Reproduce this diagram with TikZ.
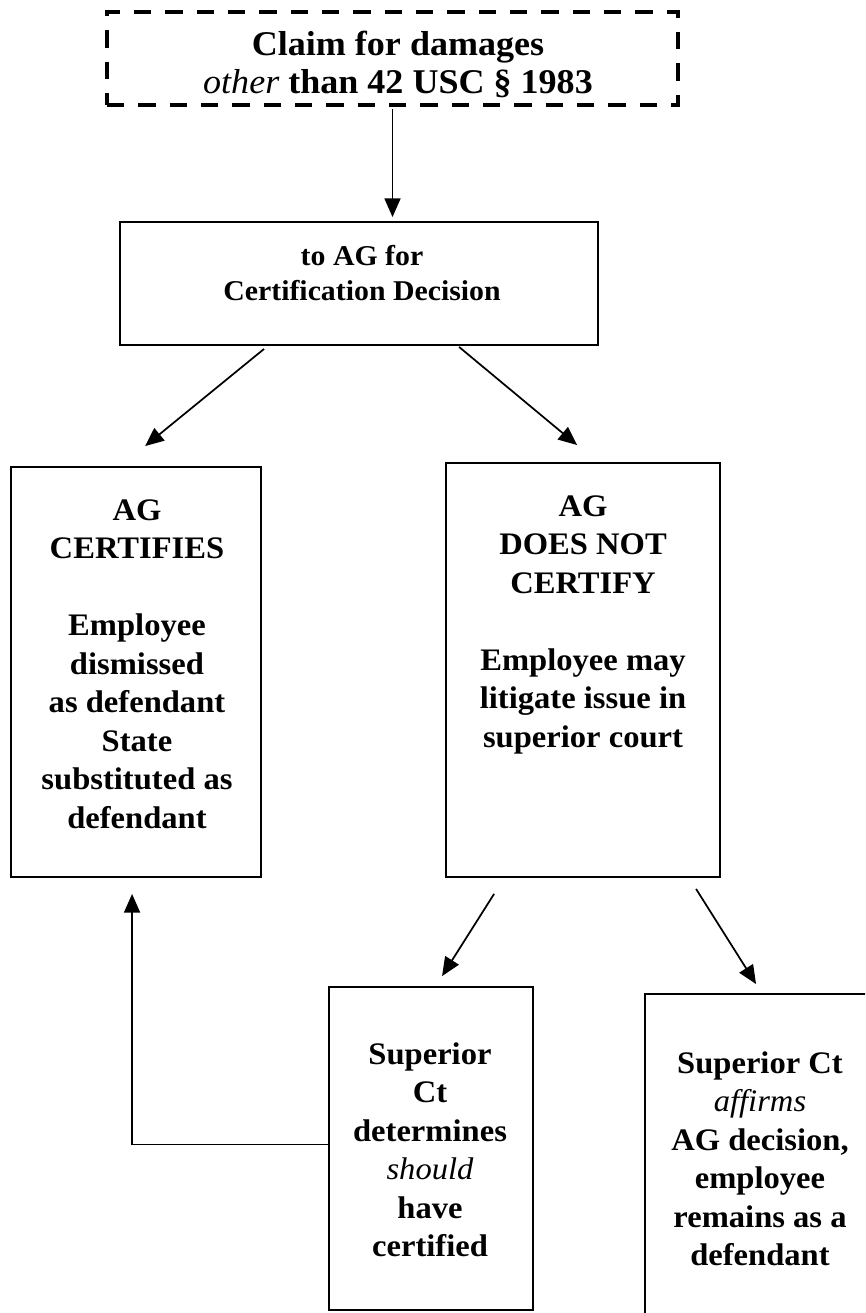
\documentclass[tikz,border=0pt]{standalone}
\usepackage{fontspec}
\setmainfont{Liberation Serif}[FakeStretch=1.04]
\usetikzlibrary{arrows.meta}

\tikzset{
  box/.style={draw, line width=1.4pt, inner sep=0pt},
  dashbox/.style={draw, line width=2.4pt, inner sep=0pt, dash pattern=on 13pt off 10.5pt},
  lbl/.style={align=center, inner sep=0pt, anchor=north,
    font=\bfseries\fontsize{23.5}{28.9}\selectfont},
  arr/.style={-{Triangle[length=14pt,width=12pt]}, line width=1.3pt}
}

\begin{document}
\begin{tikzpicture}[x=0.75pt, y=-0.75pt]
  \useasboundingbox (0,0) rectangle (865,1313);
  \clip (0,0) rectangle (865,1313);

  % Claim box (dashed)
  \node[dashbox, minimum width=428.25pt, minimum height=69.75pt] (claim) at (392.5,58.5) {};
  \node[lbl, font=\bfseries\fontsize{26}{28.5}\selectfont] (claim-txt) at (398,31) {Claim for damages\\{\mdseries\itshape other} than 42 USC \S{} 1983};

  % Certification decision box
  \node[box, minimum width=358.5pt, minimum height=92.25pt] (ag) at (359,283.5) {};
  \node[lbl, font=\bfseries\fontsize{21.5}{26.5}\selectfont] (ag-txt) at (362,245) {to AG for\\Certification Decision};

  % AG certifies
  \node[box, minimum width=187.5pt, minimum height=307.5pt] (cert) at (136,672) {};
  \node[lbl] (cert-txt) at (137,499) {AG\\CERTIFIES\\[28.9pt]Employee\\dismissed\\as defendant\\State\\substituted as\\defendant};

  % AG does not certify
  \node[box, minimum width=205.5pt, minimum height=310.5pt] (nocert) at (583,670) {};
  \node[lbl] (nocert-txt) at (583,495) {AG\\DOES NOT\\CERTIFY\\[28.9pt]Employee may\\litigate issue in\\superior court};

  % Superior court outcomes
  \node[box, minimum width=153pt, minimum height=242.25pt] (should) at (431,1148.5) {};
  \node[lbl] (should-txt) at (430,1042) {Superior\\Ct\\determines\\{\mdseries\itshape should}\\have\\certified};

  \node[box, minimum width=176.25pt, minimum height=252pt] (affirm) at (762.5,1162) {};
  \node[lbl] (affirm-txt) at (760,1051) {Superior Ct\\{\mdseries\itshape affirms}\\AG decision,\\employee\\remains as a\\defendant};

  % Connectors
  \draw[arr, shorten <=2pt, shorten >=3pt] (claim.south) -- (claim.south |- ag.north);
  \draw[arr] ([shift={(145,3)}]ag.south west) -- ([shift={(135,-20)}]cert.north west);
  \draw[arr] ([shift={(340,1)}]ag.south west) -- ([shift={(132,-17)}]nocert.north west);
  \draw[arr] ([shift={(49,16)}]nocert.south west) -- ([shift={(114,-10)}]should.north west);
  \draw[arr] ([shift={(251,11)}]nocert.south west) -- ([shift={(112,-9)}]affirm.north west);
  \draw[arr] ([yshift=3]should.west) -| ([shift={(122,16)}]cert.south west);
\end{tikzpicture}
\end{document}
